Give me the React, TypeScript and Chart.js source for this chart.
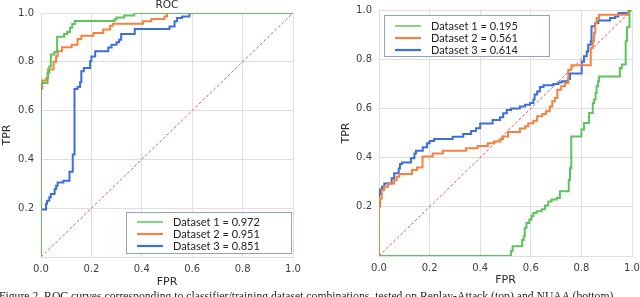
import React, { useEffect, useRef } from 'react';
import { Chart, registerables } from 'chart.js';

Chart.register(...registerables);

// ---------------- data ----------------
const axisTickValues = [0, 0.2, 0.4, 0.6, 0.8, 1.0];
const xTickLabels = ['0.0', '0.2', '0.4', '0.6', '0.8', '1.0'];
const yTickLabels = ['', '0.2', '0.4', '0.6', '0.8', '1.0'];

const datasetNames = ['Dataset 1', 'Dataset 2', 'Dataset 3'];
const replayAuc = [0.972, 0.951, 0.851];
const nuaaAuc = [0.195, 0.561, 0.614];

const chanceFpr = [0, 1];
const chanceTpr = [0, 1];

// Replay-Attack (left panel)
const replayD1Fpr = [0, 0, 0.026, 0.026, 0.033, 0.033, 0.039, 0.039, 0.053, 0.053, 0.064, 0.064, 0.092, 0.092, 0.104, 0.104, 0.115, 0.115, 0.124, 0.124, 0.134, 0.134, 0.292, 0.292, 0.3, 0.3, 0.33, 0.33, 0.37, 0.37, 1];
const replayD1Tpr = [0, 0.713, 0.713, 0.754, 0.754, 0.781, 0.781, 0.83, 0.83, 0.84, 0.84, 0.903, 0.903, 0.914, 0.914, 0.922, 0.922, 0.94, 0.94, 0.955, 0.955, 0.967, 0.967, 0.974, 0.974, 0.982, 0.982, 0.99, 0.99, 1, 1];

const replayD2Fpr = [0, 0, 0.005, 0.005, 0.021, 0.021, 0.028, 0.028, 0.05, 0.05, 0.06, 0.06, 0.066, 0.066, 0.083, 0.083, 0.122, 0.122, 0.145, 0.145, 0.16, 0.16, 0.208, 0.208, 0.247, 0.247, 0.274, 0.274, 0.285, 0.285, 0.405, 0.405, 0.438, 0.438, 0.49, 0.49, 0.5, 0.5, 1];
const replayD2Tpr = [0, 0.69, 0.69, 0.723, 0.723, 0.734, 0.734, 0.768, 0.768, 0.8, 0.8, 0.823, 0.823, 0.843, 0.843, 0.86, 0.86, 0.87, 0.87, 0.893, 0.893, 0.907, 0.907, 0.918, 0.918, 0.932, 0.932, 0.948, 0.948, 0.956, 0.956, 0.966, 0.966, 0.975, 0.975, 0.986, 0.986, 1, 1];

const replayD3Fpr = [0, 0, 0.02, 0.02, 0.024, 0.024, 0.033, 0.033, 0.039, 0.039, 0.054, 0.054, 0.06, 0.06, 0.066, 0.066, 0.089, 0.089, 0.113, 0.113, 0.126, 0.126, 0.133, 0.133, 0.145, 0.145, 0.155, 0.155, 0.16, 0.16, 0.17, 0.17, 0.195, 0.195, 0.2, 0.2, 0.215, 0.215, 0.267, 0.267, 0.28, 0.28, 0.3, 0.3, 0.31, 0.31, 0.318, 0.318, 0.372, 0.372, 0.51, 0.51, 0.53, 0.53, 0.54, 0.54, 0.56, 0.56, 0.589, 0.589, 1];
const replayD3Tpr = [0, 0.195, 0.195, 0.218, 0.218, 0.231, 0.231, 0.245, 0.245, 0.258, 0.258, 0.278, 0.278, 0.292, 0.292, 0.305, 0.305, 0.312, 0.312, 0.349, 0.349, 0.42, 0.42, 0.689, 0.689, 0.697, 0.697, 0.716, 0.716, 0.761, 0.761, 0.775, 0.775, 0.802, 0.802, 0.822, 0.822, 0.843, 0.843, 0.859, 0.859, 0.87, 0.87, 0.88, 0.88, 0.89, 0.89, 0.914, 0.914, 0.934, 0.934, 0.945, 0.945, 0.966, 0.966, 0.98, 0.98, 0.986, 0.986, 1, 1];

// NUAA (right panel)
const nuaaD1Fpr = [0, 0.522, 0.522, 0.528, 0.528, 0.566, 0.566, 0.572, 0.572, 0.576, 0.576, 0.583, 0.583, 0.594, 0.594, 0.603, 0.603, 0.61, 0.61, 0.623, 0.623, 0.643, 0.643, 0.656, 0.656, 0.669, 0.669, 0.682, 0.682, 0.702, 0.702, 0.715, 0.715, 0.75, 0.75, 0.755, 0.755, 0.76, 0.76, 0.8, 0.8, 0.81, 0.81, 0.83, 0.83, 0.845, 0.845, 0.85, 0.85, 0.856, 0.856, 0.86, 0.86, 0.866, 0.866, 0.87, 0.87, 0.952, 0.952, 0.96, 0.96, 0.975, 0.975, 0.98, 0.98, 0.99, 0.99, 1];
const nuaaD1Tpr = [0, 0, 0.02, 0.02, 0.04, 0.04, 0.065, 0.065, 0.08, 0.08, 0.115, 0.115, 0.134, 0.134, 0.148, 0.148, 0.163, 0.163, 0.175, 0.175, 0.182, 0.182, 0.19, 0.19, 0.205, 0.205, 0.222, 0.222, 0.23, 0.23, 0.236, 0.236, 0.263, 0.263, 0.309, 0.309, 0.358, 0.358, 0.486, 0.486, 0.514, 0.514, 0.541, 0.541, 0.581, 0.581, 0.622, 0.622, 0.636, 0.636, 0.663, 0.663, 0.69, 0.69, 0.71, 0.71, 0.73, 0.73, 0.764, 0.764, 0.778, 0.778, 0.873, 0.873, 0.93, 0.93, 1, 1];

const nuaaD2Fpr = [0, 0, 0.004, 0.004, 0.011, 0.011, 0.02, 0.02, 0.036, 0.036, 0.06, 0.06, 0.07, 0.07, 0.08, 0.08, 0.13, 0.13, 0.15, 0.15, 0.172, 0.172, 0.212, 0.212, 0.252, 0.252, 0.344, 0.344, 0.39, 0.39, 0.43, 0.43, 0.455, 0.455, 0.48, 0.48, 0.49, 0.49, 0.51, 0.51, 0.557, 0.557, 0.578, 0.578, 0.59, 0.59, 0.61, 0.61, 0.625, 0.625, 0.645, 0.645, 0.66, 0.66, 0.675, 0.675, 0.685, 0.685, 0.695, 0.695, 0.705, 0.705, 0.72, 0.72, 0.735, 0.735, 0.748, 0.748, 0.76, 0.76, 0.837, 0.837, 0.845, 0.845, 0.85, 0.85, 0.855, 0.855, 0.86, 0.86, 0.87, 0.87, 0.985, 0.985, 1];
const nuaaD2Tpr = [0, 0.2, 0.2, 0.234, 0.234, 0.268, 0.268, 0.282, 0.282, 0.295, 0.295, 0.309, 0.309, 0.322, 0.322, 0.333, 0.333, 0.35, 0.35, 0.36, 0.36, 0.404, 0.404, 0.417, 0.417, 0.428, 0.428, 0.438, 0.438, 0.447, 0.447, 0.458, 0.458, 0.465, 0.465, 0.476, 0.476, 0.486, 0.486, 0.504, 0.504, 0.518, 0.518, 0.527, 0.527, 0.54, 0.54, 0.55, 0.55, 0.568, 0.568, 0.577, 0.577, 0.588, 0.588, 0.608, 0.608, 0.629, 0.629, 0.642, 0.642, 0.676, 0.676, 0.69, 0.69, 0.703, 0.703, 0.757, 0.757, 0.775, 0.775, 0.846, 0.846, 0.873, 0.873, 0.906, 0.906, 0.947, 0.947, 0.967, 0.967, 0.981, 0.981, 1, 1];

const nuaaD3Fpr = [0, 0, 0.004, 0.004, 0.012, 0.012, 0.021, 0.021, 0.05, 0.05, 0.06, 0.06, 0.078, 0.078, 0.083, 0.083, 0.091, 0.091, 0.126, 0.126, 0.14, 0.14, 0.146, 0.146, 0.173, 0.173, 0.19, 0.19, 0.2, 0.2, 0.218, 0.218, 0.291, 0.291, 0.333, 0.333, 0.364, 0.364, 0.383, 0.383, 0.4, 0.4, 0.449, 0.449, 0.478, 0.478, 0.491, 0.491, 0.505, 0.505, 0.522, 0.522, 0.557, 0.557, 0.577, 0.577, 0.597, 0.597, 0.61, 0.61, 0.615, 0.615, 0.625, 0.625, 0.636, 0.636, 0.65, 0.65, 0.689, 0.689, 0.709, 0.709, 0.722, 0.722, 0.748, 0.748, 0.755, 0.755, 0.801, 0.801, 0.81, 0.81, 0.821, 0.821, 0.827, 0.827, 0.837, 0.837, 0.84, 0.84, 0.854, 0.854, 0.867, 0.867, 0.913, 0.913, 0.933, 0.933, 0.946, 0.946, 0.986, 0.986, 1];
const nuaaD3Tpr = [0, 0.25, 0.25, 0.27, 0.27, 0.282, 0.282, 0.295, 0.295, 0.316, 0.316, 0.336, 0.336, 0.356, 0.356, 0.374, 0.374, 0.38, 0.38, 0.397, 0.397, 0.417, 0.417, 0.428, 0.428, 0.442, 0.442, 0.458, 0.458, 0.467, 0.467, 0.476, 0.476, 0.485, 0.485, 0.496, 0.496, 0.508, 0.508, 0.519, 0.519, 0.539, 0.539, 0.553, 0.553, 0.564, 0.564, 0.58, 0.58, 0.593, 0.593, 0.6, 0.6, 0.608, 0.608, 0.615, 0.615, 0.622, 0.622, 0.636, 0.636, 0.656, 0.656, 0.669, 0.669, 0.687, 0.687, 0.694, 0.694, 0.699, 0.699, 0.705, 0.705, 0.71, 0.71, 0.72, 0.72, 0.742, 0.742, 0.79, 0.79, 0.812, 0.812, 0.832, 0.832, 0.859, 0.859, 0.873, 0.873, 0.934, 0.934, 0.947, 0.947, 0.957, 0.957, 0.967, 0.967, 0.974, 0.974, 0.988, 0.988, 1, 1];

const captionText =
  'Figure 2. ROC curves corresponding to classifier/training dataset combinations, tested on Replay-Attack (top) and NUAA (bottom).';

// ---------------- styles ----------------
const seriesColors = ['#5cc45c', '#f5823f', '#3c6fdb'];
const legendLineWidths = [1.5, 2.2, 2.2];
const chanceColor = '#e2605a';
const gridColor = '#dedede';
const tickColor = '#3d3d3d';
const tickFont = { family: 'DejaVu Sans', size: 10 };
const labelFont = { family: 'DejaVu Sans', size: 11, lineHeight: 1.2 };
const legendFont = '11px Lato';
const legendBorder = '#8fa4ca';

type Area = { left: number; top: number; right: number; bottom: number };
type Panel = {
  fprs: number[][];
  tprs: number[][];
  aucs: number[];
  title?: string;
  area: Area;
  yTitleCenterX: number;
  xTitleCenterY: number;
  legendBox: (a: Area) => { x: number; y: number };
  legendRow0: number;
};

const leftPanel: Panel = {
  fprs: [replayD1Fpr, replayD2Fpr, replayD3Fpr],
  tprs: [replayD1Tpr, replayD2Tpr, replayD3Tpr],
  aucs: replayAuc,
  title: 'ROC',
  area: { left: 41, top: 13, right: 293, bottom: 257 },
  yTitleCenterX: 7.5,
  xTitleCenterY: 282,
  legendBox: (a) => ({ x: a.right - 1 - 166, y: a.bottom - 3 - 42 }),
  legendRow0: 10,
};

const rightPanel: Panel = {
  fprs: [nuaaD1Fpr, nuaaD2Fpr, nuaaD3Fpr],
  tprs: [nuaaD1Tpr, nuaaD2Tpr, nuaaD3Tpr],
  aucs: nuaaAuc,
  area: { left: 59, top: 10, right: 312, bottom: 256 },
  yTitleCenterX: 26.5,
  xTitleCenterY: 280,
  legendBox: (a) => ({ x: a.left + 5, y: a.top + 5 }),
  legendRow0: 11,
};

function zip(fpr: number[], tpr: number[]) {
  const n = Math.min(fpr.length, tpr.length);
  const pts: { x: number; y: number }[] = [];
  for (let i = 0; i < n; i++) pts.push({ x: fpr[i], y: tpr[i] });
  return pts;
}

function makeChart(canvas: HTMLCanvasElement, panel: Panel) {
  const W = canvas.width;
  const H = canvas.height;
  const { area } = panel;
  const labels = datasetNames.map((n, i) => `${n} = ${panel.aucs[i].toFixed(3)}`);

  const datasets: any[] = panel.fprs.map((f, i) => ({
    label: labels[i],
    data: zip(f, panel.tprs[i]),
    borderColor: seriesColors[i],
    backgroundColor: seriesColors[i],
    borderWidth: 2,
    pointRadius: 0,
    fill: false,
    tension: 0,
    clip: 0,
    order: 0,
  }));
  datasets.push({
    label: 'chance',
    data: zip(chanceFpr, chanceTpr),
    borderColor: chanceColor,
    borderWidth: 1,
    borderDash: [3, 2],
    pointRadius: 0,
    fill: false,
    tension: 0,
    clip: 0,
    order: 1,
  });

  const boxLegend = {
    id: 'boxLegend',
    afterDraw(chart: any) {
      const ctx = chart.ctx as CanvasRenderingContext2D;
      const ca = chart.chartArea;
      const pos = panel.legendBox({ left: ca.left, top: ca.top, right: ca.right, bottom: ca.bottom });
      const bw = 166;
      const bh = 42;
      ctx.save();
      ctx.fillStyle = '#ffffff';
      ctx.fillRect(pos.x, pos.y, bw, bh);
      ctx.strokeStyle = legendBorder;
      ctx.lineWidth = 1;
      ctx.strokeRect(pos.x + 0.5, pos.y + 0.5, bw - 1, bh - 1);
      ctx.font = legendFont;
      ctx.textBaseline = 'middle';
      ctx.textAlign = 'left';
      labels.forEach((lab, i) => {
        const y = pos.y + panel.legendRow0 + 12 * i;
        ctx.beginPath();
        ctx.strokeStyle = seriesColors[i];
        ctx.lineWidth = legendLineWidths[i];
        ctx.moveTo(pos.x + 11, y);
        ctx.lineTo(pos.x + 37, y);
        ctx.stroke();
        ctx.fillStyle = '#222222';
        ctx.fillText(lab, pos.x + 47, y + 0.5);
      });
      ctx.restore();
    },
  };

  const setTicks = (s: any) => {
    s.ticks = axisTickValues.map((v) => ({ value: v }));
  };

  return new Chart(canvas, {
    type: 'line',
    data: { datasets },
    plugins: [boxLegend],
    options: {
      responsive: false,
      animation: false,
      devicePixelRatio: 1,
      events: [],
      layout: {
        padding: { left: 0, top: panel.title ? 0 : area.top, right: W - area.right, bottom: 0 },
      },
      plugins: {
        legend: { display: false },
        tooltip: { enabled: false },
        title: {
          display: !!panel.title,
          text: panel.title || '',
          fullSize: false,
          color: '#2a2a2a',
          font: { family: 'DejaVu Sans', size: 10.5, weight: 'normal', lineHeight: 1 },
          padding: { top: 0, bottom: area.top - 10.5 },
        },
      },
      scales: {
        x: {
          type: 'linear',
          min: 0,
          max: 1,
          afterBuildTicks: setTicks,
          afterFit: (s: any) => {
            s.height = H - area.bottom;
            s.paddingLeft = 0;
            s.paddingRight = 0;
          },
          ticks: {
            callback: (_v: any, i: number) => xTickLabels[i],
            color: tickColor,
            font: tickFont,
            padding: 6,
            autoSkip: false,
            maxRotation: 0,
            minRotation: 0,
          },
          grid: { color: gridColor, lineWidth: 1, drawTicks: false },
          border: { display: true, color: gridColor, width: 1 },
          title: {
            display: true,
            text: 'FPR',
            color: '#2a2a2a',
            font: labelFont,
            padding: { top: 0, bottom: H - panel.xTitleCenterY - 6.6 },
          },
        },
        y: {
          type: 'linear',
          min: 0,
          max: 1,
          afterBuildTicks: setTicks,
          afterFit: (s: any) => {
            s.width = area.left;
            s.paddingTop = 0;
            s.paddingBottom = 0;
          },
          ticks: {
            callback: (_v: any, i: number) => yTickLabels[i],
            color: tickColor,
            font: tickFont,
            padding: 7,
            autoSkip: false,
          },
          grid: { color: gridColor, lineWidth: 1, drawTicks: false },
          border: { display: true, color: gridColor, width: 1 },
          title: {
            display: true,
            text: 'TPR',
            color: '#2a2a2a',
            font: labelFont,
            padding: { top: panel.yTitleCenterX - 6.6, bottom: 0 },
          },
        },
      },
    } as any,
  });
}

export default function App() {
  const leftRef = useRef<HTMLCanvasElement>(null);
  const rightRef = useRef<HTMLCanvasElement>(null);

  useEffect(() => {
    const charts: Chart[] = [];
    if (leftRef.current) charts.push(makeChart(leftRef.current, leftPanel));
    if (rightRef.current) charts.push(makeChart(rightRef.current, rightPanel));
    return () => charts.forEach((c) => c.destroy());
  }, []);

  return (
    <div
      style={{
        position: 'fixed',
        left: 0,
        top: 0,
        width: 640,
        height: 297,
        overflow: 'hidden',
        background: '#ffffff',
      }}
    >
      <canvas
        ref={leftRef}
        width={320}
        height={297}
        style={{ position: 'absolute', left: 0, top: 0, width: 320, height: 297, display: 'block' }}
      />
      <canvas
        ref={rightRef}
        width={320}
        height={297}
        style={{ position: 'absolute', left: 320, top: 0, width: 320, height: 297, display: 'block' }}
      />
      <div
        style={{
          position: 'absolute',
          left: -1,
          top: 290.5,
          whiteSpace: 'nowrap',
          fontFamily: '"Liberation Serif", "DejaVu Serif", serif',
          fontSize: 11.7,
          lineHeight: '12px',
          color: '#222222',
        }}
      >
        {captionText}
      </div>
    </div>
  );
}
